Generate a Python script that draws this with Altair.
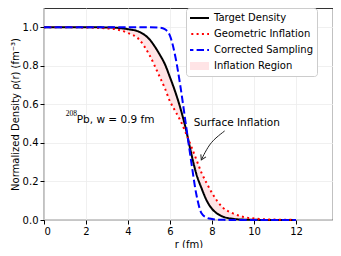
import altair as alt
import pandas as pd

# radius grid (fm)
r = [0, 1, 2, 3, 3.5, 4, 4.5, 5, 5.5, 5.75, 6, 6.25, 6.5, 6.75, 7, 7.25, 7.5,
     7.75, 8, 8.25, 8.5, 9, 9.5, 10, 11, 12]
target = [1.0, 1.0, 1.0, 0.999, 0.997, 0.99, 0.978, 0.94, 0.86, 0.81, 0.74, 0.665,
          0.578, 0.475, 0.35, 0.24, 0.165, 0.10, 0.058, 0.033, 0.018, 0.006, 0.002,
          0.001, 0.0, 0.0]
geometric = [1.0, 1.0, 0.999, 0.994, 0.988, 0.97, 0.94, 0.86, 0.745, 0.685, 0.615,
             0.565, 0.515, 0.452, 0.385, 0.315, 0.245, 0.19, 0.14, 0.098, 0.066,
             0.034, 0.016, 0.008, 0.002, 0.0005]
corrected = [1.0, 1.0, 1.0, 1.0, 1.0, 1.0, 1.0, 1.0, 0.998, 0.99, 0.955, 0.85, 0.69,
             0.5, 0.31, 0.135, 0.035, 0.012, 0.005, 0.002, 0.001, 0.0, 0.0, 0.0, 0.0, 0.0]

series_names = ["Target Density", "Geometric Inflation", "Corrected Sampling", "Inflation Region"]
series_colors = ["black", "red", "blue", "#ffe4e6"]
series_dashes = [[1, 0], [2, 3.3], [7.4, 3.2], [1, 0]]

x_ticks = [0, 2, 4, 6, 8, 10, 12]
y_ticks = [0.0, 0.2, 0.4, 0.6, 0.8, 1.0]

# annotations
note_label = ["Pb, w = 0.9 fm"]
note_x = [1.56]
note_y = [0.52]
sup_label = ["208"]
sup_x = [1.03]
sup_y = [0.548]
surf_label = ["Surface Inflation"]
surf_x = [9.18]
surf_y = [0.505]
arrow_x = [8.6, 8.03, 7.73, 7.49]
arrow_y = [0.462, 0.414, 0.365, 0.312]
arrow_order = [0, 1, 2, 3]

df = pd.DataFrame({"r": r, "Target Density": target,
                   "Geometric Inflation": geometric, "Corrected Sampling": corrected})

FONT = "DejaVu Sans"

xs = alt.Scale(domain=[0, 13.76], nice=False, zero=False)
ys = alt.Scale(domain=[0, 1.1], nice=False)

x_axis = alt.Axis(values=x_ticks, format="d", title="r (fm)", titlePadding=3)
y_axis = alt.Axis(values=y_ticks, format=".1f",
                  title="Normalized Density ρ(r) (fm⁻³)", titlePadding=2)

color_scale = alt.Scale(domain=series_names, range=series_colors)
dash_scale = alt.Scale(domain=series_names, range=series_dashes)

legend = alt.Legend(
    title=None, orient="none", legendX=142, legendY=0, direction="vertical",
    columns=1, clipHeight=12,
    fillColor="white", strokeColor="#cccccc", cornerRadius=3, padding=4,
    symbolType="M-1.8,0L2.8,0", symbolSize=100,
    symbolStrokeWidth={"expr": "datum.value === 'Inflation Region' ? 8 : 2"},
    symbolOpacity=1,
    labelFont=FONT, labelFontSize=10, labelColor="black", labelOffset=14,
    rowPadding=4,
)

base = alt.Chart(df)

area = base.transform_calculate(series="'Inflation Region'").mark_area(
    interpolate="monotone", opacity=1
).encode(
    x=alt.X("r:Q", scale=xs, axis=x_axis),
    y=alt.Y("Target Density:Q", scale=ys, axis=y_axis),
    y2="Geometric Inflation:Q",
    color=alt.Color("series:N", scale=color_scale, legend=legend),
    strokeDash=alt.StrokeDash("series:N", scale=dash_scale, legend=legend),
)

lines = base.transform_fold(
    ["Target Density", "Geometric Inflation", "Corrected Sampling"], as_=["series", "val"]
).mark_line(strokeWidth=2, interpolate="monotone").encode(
    x=alt.X("r:Q", scale=xs, axis=x_axis),
    y=alt.Y("val:Q", scale=ys, axis=y_axis),
    color=alt.Color("series:N", scale=color_scale, legend=legend),
    strokeDash=alt.StrokeDash("series:N", scale=dash_scale, legend=legend),
)

note = alt.Chart(pd.DataFrame({"x": note_x, "y": note_y, "t": note_label})).mark_text(
    align="left", baseline="middle", font=FONT, fontSize=10.5, color="black"
).encode(x=alt.X("x:Q", scale=xs), y=alt.Y("y:Q", scale=ys), text="t:N")

sup = alt.Chart(pd.DataFrame({"x": sup_x, "y": sup_y, "t": sup_label})).mark_text(
    align="left", baseline="middle", font="Liberation Serif", fontSize=7.5, color="black"
).encode(x=alt.X("x:Q", scale=xs), y=alt.Y("y:Q", scale=ys), text="t:N")

surf = alt.Chart(pd.DataFrame({"x": surf_x, "y": surf_y, "t": surf_label})).mark_text(
    align="center", baseline="middle", font=FONT, fontSize=10.5, color="black"
).encode(x=alt.X("x:Q", scale=xs), y=alt.Y("y:Q", scale=ys), text="t:N")

arrow_df = pd.DataFrame({"x": arrow_x, "y": arrow_y, "o": arrow_order})
arrow = alt.Chart(arrow_df).mark_line(
    interpolate="basis", strokeWidth=1, color="#222222"
).encode(x=alt.X("x:Q", scale=xs), y=alt.Y("y:Q", scale=ys), order="o:Q")

head = alt.Chart(arrow_df.tail(1)).mark_point(
    shape="M-0.6,-1L0,0L0.6,-1", filled=False, size=90, strokeWidth=1,
    color="#222222", angle=26, opacity=1
).encode(x=alt.X("x:Q", scale=xs), y=alt.Y("y:Q", scale=ys))

chart = alt.layer(area, lines, arrow, head, note, sup, surf).properties(
    width=289, height=212, autosize=alt.AutoSizeParams(type="none"),
    padding={"left": 36, "top": 0, "right": 0, "bottom": 28},
).configure(font=FONT).configure_view(
    stroke="#333333", strokeWidth=1.2
).configure_axis(
    labelFont=FONT, labelFontSize=10, labelColor="black", titleFont=FONT,
    titleFontSize=10, titleFontWeight="normal", titleColor="black",
    tickColor="black", tickSize=4, labelPadding=2, grid=True,
    gridColor="#ececec", gridWidth=0.8, domain=False,
)

chart.save("out.html", embed_options={"renderer": "svg", "actions": False})
